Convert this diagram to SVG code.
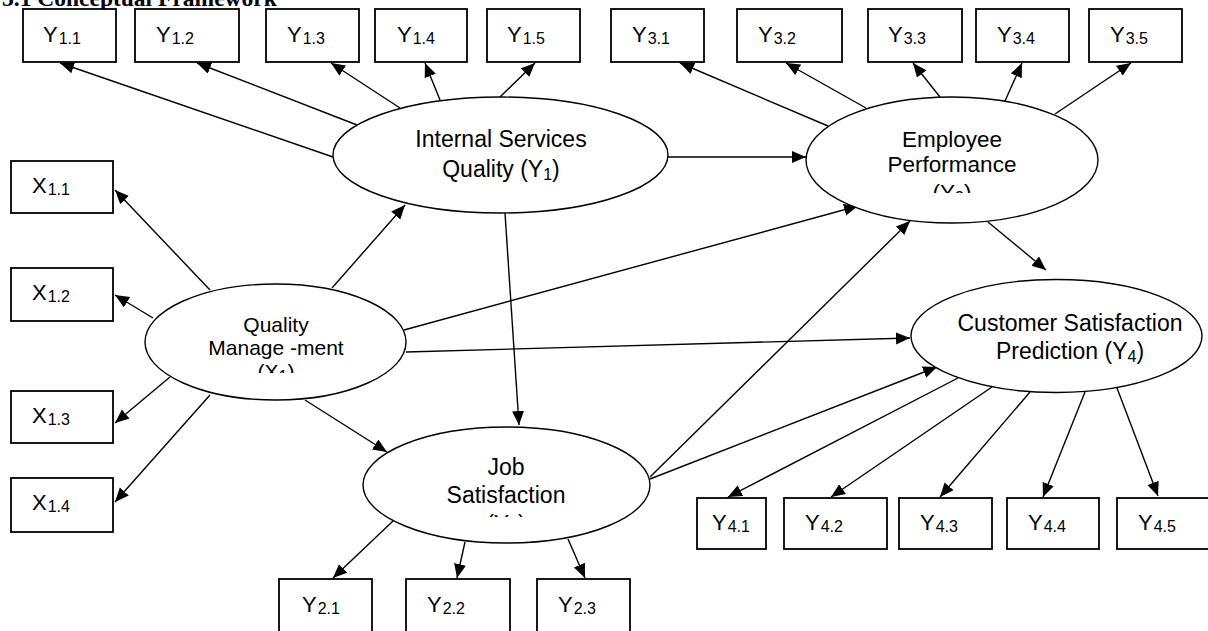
<svg xmlns="http://www.w3.org/2000/svg" width="1208" height="631" viewBox="0 0 1208 631">
<style>
.box{fill:#fff;stroke:#000;stroke-width:1.8}
.ell{fill:#fff;stroke:#000;stroke-width:1.4}
.lbl{font-family:"Liberation Sans",Arial,sans-serif;font-size:22px;fill:#000}
.sub{font-size:16px}
.et{font-family:"Liberation Sans",Arial,sans-serif;font-size:23px;fill:#000;text-anchor:middle}
.es{font-size:16px}
.title{font-family:"Liberation Serif","Times New Roman",serif;font-size:23.5px;font-weight:bold;fill:#000}
#connectors line{stroke:#000;stroke-width:1.4;marker-end:url(#arr)}
</style>
<defs>
<marker id="arr" markerUnits="userSpaceOnUse" markerWidth="15" markerHeight="13" refX="14" refY="6" orient="auto">
<path d="M0,0 L14,6 L0,12 z" fill="#000"/>
</marker>
<clipPath id="cY3"><rect x="800" y="90" width="300" height="103"/></clipPath>
<clipPath id="cX1"><rect x="140" y="280" width="270" height="93"/></clipPath>
<clipPath id="cY2"><rect x="360" y="420" width="300" height="97"/></clipPath>
</defs>
<rect width="1208" height="631" fill="#fff"/>
<text class="title" x="2" y="6">3.1 Conceptual Framework</text>

<g id="connectors">
<line x1="333" y1="157" x2="60" y2="63"/>
<line x1="357" y1="125" x2="197" y2="63"/>
<line x1="400" y1="108" x2="331" y2="63"/>
<line x1="440" y1="100" x2="425" y2="63"/>
<line x1="500" y1="97" x2="535" y2="63"/>
<line x1="668" y1="157" x2="806" y2="157"/>
<line x1="505" y1="213" x2="519" y2="425"/>
<line x1="332" y1="288" x2="405" y2="205"/>
<line x1="210" y1="290" x2="115" y2="190"/>
<line x1="153" y1="318" x2="115" y2="295"/>
<line x1="170" y1="377" x2="115" y2="423"/>
<line x1="210" y1="395" x2="115" y2="502"/>
<line x1="305" y1="400" x2="387" y2="452"/>
<line x1="404" y1="330" x2="858" y2="206"/>
<line x1="406" y1="352" x2="910" y2="338"/>
<line x1="650" y1="477" x2="910" y2="221"/>
<line x1="650" y1="479" x2="937" y2="367"/>
<line x1="988" y1="222" x2="1046" y2="270"/>
<line x1="828" y1="126" x2="680" y2="63"/>
<line x1="866" y1="108" x2="786" y2="63"/>
<line x1="940" y1="97" x2="913" y2="63"/>
<line x1="1005" y1="101" x2="1022" y2="63"/>
<line x1="1055" y1="114" x2="1131" y2="63"/>
<line x1="393" y1="521" x2="333" y2="578"/>
<line x1="465" y1="542" x2="457" y2="578"/>
<line x1="568" y1="539" x2="585" y2="578"/>
<line x1="958" y1="378" x2="728" y2="497"/>
<line x1="992" y1="387" x2="831" y2="497"/>
<line x1="1030" y1="392" x2="940" y2="497"/>
<line x1="1085" y1="392" x2="1043" y2="497"/>
<line x1="1117" y1="388" x2="1158" y2="496"/>
</g>

<g id="Y1">
<ellipse class="ell" cx="500.5" cy="155" rx="167.5" ry="58"/>
<text class="et" x="501" y="147">Internal Services</text>
<text class="et" x="501" y="177">Quality (Y<tspan class="es" dy="3">1</tspan><tspan dy="-3">)</tspan></text>
</g>
<g id="Y3">
<ellipse class="ell" cx="952" cy="160" rx="146" ry="63"/>
<g clip-path="url(#cY3)">
<text class="et" x="952" y="147" style="font-size:22.5px">Employee</text>
<text class="et" x="952" y="172" style="font-size:22.5px">Performance</text>
<text class="et" x="952" y="200" style="font-size:22.5px">(Y<tspan class="es" dy="3">3</tspan><tspan dy="-3">)</tspan></text>
</g>
</g>
<g id="X1">
<ellipse class="ell" cx="275.5" cy="342" rx="130.5" ry="58"/>
<g clip-path="url(#cX1)">
<text class="et" x="276" y="332" style="font-size:21px">Quality</text>
<text class="et" x="276" y="355" style="font-size:21px">Manage -ment</text>
<text class="et" x="276" y="379" style="font-size:21px">(X<tspan class="es" dy="3">1</tspan><tspan dy="-3">)</tspan></text>
</g>
</g>
<g id="Y2">
<ellipse class="ell" cx="506.5" cy="485" rx="143.5" ry="58"/>
<g clip-path="url(#cY2)">
<text class="et" x="506" y="475">Job</text>
<text class="et" x="506" y="503">Satisfaction</text>
<text class="et" x="506" y="532">(Y<tspan class="es" dy="3">2</tspan><tspan dy="-3">)</tspan></text>
</g>
</g>
<g id="Y4">
<ellipse class="ell" cx="1056.5" cy="336" rx="145.5" ry="56.5"/>
<text class="et" x="1070" y="331">Customer Satisfaction</text>
<text class="et" x="1070" y="359">Prediction (Y<tspan class="es" dy="3">4</tspan><tspan dy="-3">)</tspan></text>
</g>

<g id="Y1_1"><rect class="box" x="23" y="9" width="93" height="53"/><text class="lbl" x="43" y="42">Y<tspan class="sub" dx="1" dy="2">1.1</tspan></text></g>
<g id="Y1_2"><rect class="box" x="135" y="9" width="104" height="53"/><text class="lbl" x="156" y="42">Y<tspan class="sub" dx="1" dy="2">1.2</tspan></text></g>
<g id="Y1_3"><rect class="box" x="266" y="9" width="93" height="53"/><text class="lbl" x="287" y="42">Y<tspan class="sub" dx="1" dy="2">1.3</tspan></text></g>
<g id="Y1_4"><rect class="box" x="375" y="9" width="92" height="53"/><text class="lbl" x="397" y="42">Y<tspan class="sub" dx="1" dy="2">1.4</tspan></text></g>
<g id="Y1_5"><rect class="box" x="487" y="9" width="93" height="53"/><text class="lbl" x="507" y="42">Y<tspan class="sub" dx="1" dy="2">1.5</tspan></text></g>
<g id="Y3_1"><rect class="box" x="611" y="9" width="93" height="53"/><text class="lbl" x="632" y="42">Y<tspan class="sub" dx="1" dy="2">3.1</tspan></text></g>
<g id="Y3_2"><rect class="box" x="737" y="9" width="105" height="53"/><text class="lbl" x="758" y="42">Y<tspan class="sub" dx="1" dy="2">3.2</tspan></text></g>
<g id="Y3_3"><rect class="box" x="868" y="9" width="94" height="53"/><text class="lbl" x="888" y="42">Y<tspan class="sub" dx="1" dy="2">3.3</tspan></text></g>
<g id="Y3_4"><rect class="box" x="976" y="9" width="93" height="53"/><text class="lbl" x="997" y="42">Y<tspan class="sub" dx="1" dy="2">3.4</tspan></text></g>
<g id="Y3_5"><rect class="box" x="1089" y="9" width="93" height="53"/><text class="lbl" x="1110" y="42">Y<tspan class="sub" dx="1" dy="2">3.5</tspan></text></g>

<g id="X1_1"><rect class="box" x="11" y="161" width="102" height="52"/><text class="lbl" x="32" y="193">X<tspan class="sub" dx="1" dy="2">1.1</tspan></text></g>
<g id="X1_2"><rect class="box" x="11" y="268" width="102" height="53"/><text class="lbl" x="32" y="300">X<tspan class="sub" dx="1" dy="2">1.2</tspan></text></g>
<g id="X1_3"><rect class="box" x="11" y="391" width="102" height="52"/><text class="lbl" x="32" y="423">X<tspan class="sub" dx="1" dy="2">1.3</tspan></text></g>
<g id="X1_4"><rect class="box" x="11" y="478" width="102" height="54"/><text class="lbl" x="32" y="510">X<tspan class="sub" dx="1" dy="2">1.4</tspan></text></g>

<g id="Y2_1"><rect class="box" x="279" y="579" width="93" height="60"/><text class="lbl" x="302" y="612">Y<tspan class="sub" dx="1" dy="2">2.1</tspan></text></g>
<g id="Y2_2"><rect class="box" x="406" y="579" width="104" height="60"/><text class="lbl" x="427" y="612">Y<tspan class="sub" dx="1" dy="2">2.2</tspan></text></g>
<g id="Y2_3"><rect class="box" x="537" y="579" width="93" height="60"/><text class="lbl" x="558" y="612">Y<tspan class="sub" dx="1" dy="2">2.3</tspan></text></g>

<g id="Y4_1"><rect class="box" x="697" y="498" width="69" height="51"/><text class="lbl" x="712" y="530">Y<tspan class="sub" dx="1" dy="2">4.1</tspan></text></g>
<g id="Y4_2"><rect class="box" x="784" y="498" width="103" height="51"/><text class="lbl" x="805" y="530">Y<tspan class="sub" dx="1" dy="2">4.2</tspan></text></g>
<g id="Y4_3"><rect class="box" x="899" y="498" width="93" height="51"/><text class="lbl" x="920" y="530">Y<tspan class="sub" dx="1" dy="2">4.3</tspan></text></g>
<g id="Y4_4"><rect class="box" x="1007" y="498" width="92" height="51"/><text class="lbl" x="1028" y="530">Y<tspan class="sub" dx="1" dy="2">4.4</tspan></text></g>
<g id="Y4_5"><rect class="box" x="1117" y="498" width="93" height="51"/><text class="lbl" x="1138" y="530">Y<tspan class="sub" dx="1" dy="2">4.5</tspan></text></g>
</svg>
